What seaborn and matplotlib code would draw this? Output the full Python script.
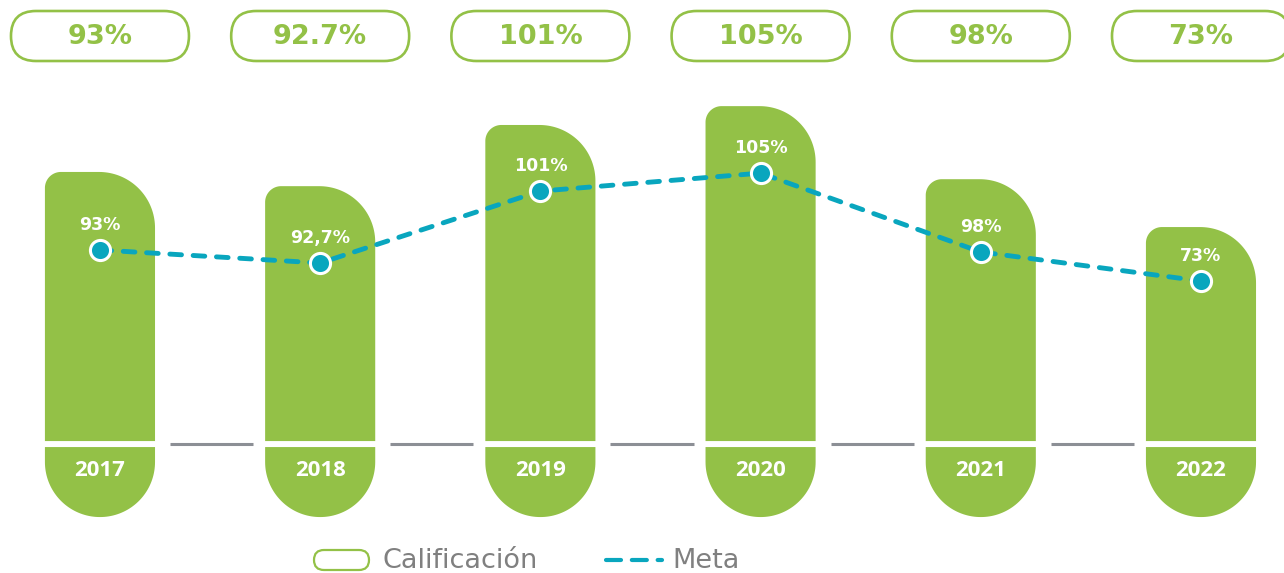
# Calificación vs Meta chart, 2017-2022
import numpy as np
import pandas as pd
import seaborn as sns
import matplotlib.pyplot as plt
from matplotlib.path import Path
from matplotlib.patches import PathPatch, FancyBboxPatch
from matplotlib.lines import Line2D
from matplotlib.transforms import Affine2D

# data
years = ['2017', '2018', '2019', '2020', '2021', '2022']
calificacion = [92.8, 87.9, 109.0, 115.5, 90.3, 73.8]   # bar heights as drawn
meta = [65.9, 61.4, 86.2, 92.4, 65.2, 55.2]              # dashed line as drawn
pill_labels = ['93%', '92.7%', '101%', '105%', '98%', '73%']
point_labels = ['93%', '92,7%', '101%', '105%', '98%', '73%']

GREEN = '#93c147'
TEAL = '#09a6be'
GRAY = '#8c8f95'
TEXT_GRAY = '#808080'
W, H = 1284, 573
XLIM = (-0.454, 5.377)
YLIM = (-45.5, 152.1)

sns.set_theme(style='white')
plt.rcParams['font.family'] = ['DejaVu Sans']

fig = plt.figure(figsize=(W / 100, H / 100), dpi=100)
ax = fig.add_axes([0, 0, 1, 1])

df = pd.DataFrame({'year': years, 'calificacion': calificacion, 'meta': meta})
df['pos'] = range(len(df))

sns.barplot(data=df, x='year', y='calificacion', color=GREEN, width=0.5,
            saturation=1, ax=ax)
ax.set_xlim(*XLIM)
ax.set_ylim(*YLIM)
ax.axis('off')

# pixels per data unit
sx = W / (XLIM[1] - XLIM[0])
sy = H / (YLIM[1] - YLIM[0])
# pixel coords (origin top-left) -> figure
px = Affine2D().scale(1 / W, -1 / H).translate(0, 1) + fig.transFigure


def arc(cx, cy, rx, ry, a0, a1, n=40):
    t = np.radians(np.linspace(a0, a1, n))
    return np.column_stack([cx + rx * np.cos(t), cy + ry * np.sin(t)]).tolist()


def bar_shape(x0, x1, y0, y1, r_left, r_right):
    rlx, rly = r_left / sx, r_left / sy
    rrx, rry = r_right / sx, r_right / sy
    pts = [[x0, y0]]
    pts += arc(x0 + rlx, y1 - rly, rlx, rly, 180, 90)
    pts += arc(x1 - rrx, y1 - rry, rrx, rry, 90, 0)
    pts += [[x1, y0], [x0, y0]]
    return Path(pts, closed=True)


def tab_shape(x0, x1, y_top, y_bot, r):
    rx, ry = r / sx, r / sy
    pts = [[x0, y_top]]
    pts += arc(x0 + rx, y_bot + ry, rx, ry, 180, 270)
    pts += arc(x1 - rx, y_bot + ry, rx, ry, 270, 360)
    pts += [[x1, y_top], [x0, y_top]]
    return Path(pts, closed=True)


gap = 6 / sy
bars = list(ax.patches)
for i, p in enumerate(bars):
    x0, w, h = p.get_x(), p.get_width(), p.get_height()
    p.set_visible(False)
    ax.add_patch(PathPatch(bar_shape(x0, x0 + w, 0, h, 16, 56),
                           facecolor=GREEN, edgecolor='none', zorder=2))
    ax.add_patch(PathPatch(tab_shape(x0, x0 + w, -gap, -gap - 70 / sy, 55),
                           facecolor=GREEN, edgecolor='none', zorder=2))
    ax.text(x0 + w / 2, -gap - 23 / sy, years[i], color='white', fontsize=16,
            fontweight='bold', family=['Open Sans', 'DejaVu Sans'],
            ha='center', va='center', zorder=3)
    # gray separator to the next bar
    if i < len(bars) - 1:
        nxt = bars[i + 1].get_x()
        ax.plot([x0 + w + 15 / sx, nxt - 12 / sx], [-3 / sy, -3 / sy],
                color=GRAY, lw=2.2, solid_capstyle='butt', zorder=2)

# dashed Meta line with markers
sns.lineplot(data=df, x='pos', y='meta', color=TEAL, lw=3.5, errorbar=None,
             linestyle=(0, (2.4, 2.4)), dash_capstyle='round', ax=ax, zorder=3)
sns.scatterplot(data=df, x='pos', y='meta', color=TEAL, s=210,
                edgecolor='white', linewidth=2.2, ax=ax, zorder=4)
ax.set_xlim(*XLIM)
ax.set_ylim(*YLIM)
ax.axis('off')
if ax.get_legend():
    ax.get_legend().remove()

for i, v in enumerate(meta):
    ax.text(i, v + 25 / sy, point_labels[i], color='white', fontsize=12.5,
            fontweight='bold', ha='center', va='center', zorder=5)

# top pills
for i, lab in enumerate(pill_labels):
    cx = (i - XLIM[0]) * sx
    ax.add_patch(FancyBboxPatch((cx - 89, 11), 178, 50,
                                boxstyle='round,pad=0,rounding_size=25',
                                transform=px, facecolor='white', edgecolor=GREEN,
                                lw=1.9, zorder=5, clip_on=False))
    ax.text(cx, 37, lab, transform=px, color=GREEN, fontsize=19.5,
            fontweight='bold', ha='center', va='center', zorder=6)

# legend
ax.add_patch(FancyBboxPatch((314, 550), 55, 20,
                            boxstyle='round,pad=0,rounding_size=10',
                            transform=px, facecolor='white', edgecolor=GREEN,
                            lw=1.6, zorder=5, clip_on=False))
ax.text(382, 568, 'Calificación', transform=px, color=TEXT_GRAY, fontsize=19.5,
        ha='left', va='baseline')
ax.add_line(Line2D([606, 662], [560, 560], transform=px, color=TEAL, lw=3,
                   linestyle=(0, (3.6, 2.6)), dash_capstyle='round'))
ax.text(672, 568, 'Meta', transform=px, color=TEXT_GRAY, fontsize=19.5,
        ha='left', va='baseline')

fig.savefig('out.png', dpi=100)
